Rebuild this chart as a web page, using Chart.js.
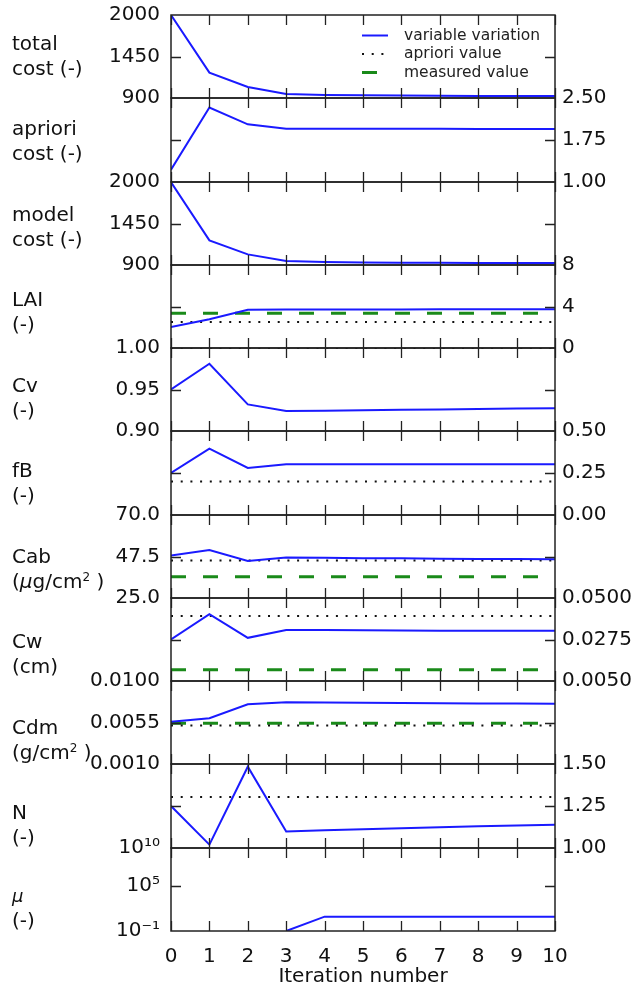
<!DOCTYPE html>
<html>
<head>
<meta charset="utf-8">
<script src="https://cdn.jsdelivr.net/npm/chart.js@4/dist/chart.umd.min.js"></script>
<style>
  body { margin: 0; background: #fff; width: 641px; height: 993px; position: relative; overflow: hidden;
         font-family: "DejaVu Sans", sans-serif; color: #111; }
  canvas { position: absolute; left: 0; }
  .lab { position: absolute; left: 12px; font-size: 20px; line-height: 25px; white-space: nowrap; }
  .lab sup { font-size: 12px; line-height: 0; vertical-align: 0.6em; }
  .lab .mu { font-size: 18px; }
</style>
</head>
<body>
<script>
const iterations = [0, 1, 2, 3, 4, 5, 6, 7, 8, 9, 10];

// variable variation per panel
const totalCost   = [2000, 1237, 1046, 953, 940, 935, 932, 930, 928, 927, 926];
const aprioriCost = [1.22, 2.33, 2.03, 1.95, 1.95, 1.95, 1.95, 1.95, 1.945, 1.945, 1.945];
const modelCost   = [1998, 1226, 1041, 953, 940, 934, 931, 929, 927, 926, 925];
const lai         = [2.02, 2.78, 3.68, 3.70, 3.71, 3.72, 3.72, 3.73, 3.73, 3.74, 3.74];
const cv          = [0.950, 0.981, 0.932, 0.924, 0.9245, 0.925, 0.9255, 0.926, 0.9265, 0.927, 0.9275];
const fB          = [0.25, 0.395, 0.28, 0.302, 0.302, 0.302, 0.302, 0.302, 0.302, 0.302, 0.302];
const cab         = [48.1, 51.0, 45.1, 47.0, 46.8, 46.6, 46.5, 46.3, 46.2, 46.1, 46.0];
const cw          = [0.0275, 0.0412, 0.0284, 0.0327, 0.0326, 0.0325, 0.0324, 0.0323, 0.0323, 0.0322, 0.0322];
const cdm         = [0.00557, 0.00596, 0.00748, 0.00770, 0.00768, 0.00765, 0.00762, 0.00760, 0.00757, 0.00755, 0.00752];
const nLayers     = [1.25, 1.02, 1.484, 1.098, 1.105, 1.112, 1.118, 1.124, 1.130, 1.134, 1.138];
const mu          = [null, null, null, 0.1, 8, 8, 8, 8, 8, 8, 8];

// horizontal reference lines (null = none in that panel)
const aprioriValues  = [null, null, null, 2.5, 1.0, 0.2, 45.3, 0.0403, 0.00518, 1.303, null];
const measuredValues = [null, null, null, 3.36, null, null, 36.5, 0.0111, 0.00543, null, null];

const yTicks = [
  [900, 1450, 2000], [1, 1.75, 2.5], [900, 1450, 2000], [0, 4, 8], [0.9, 0.95, 1.0], [0, 0.25, 0.5],
  [25, 47.5, 70], [0.005, 0.0275, 0.05], [0.001, 0.0055, 0.01], [1, 1.25, 1.5], [0.1, 1e5, 1e10]
];
const yTickLabels = [
  ['900', '1450', '2000'], ['1.00', '1.75', '2.50'], ['900', '1450', '2000'], ['0', '4', '8'],
  ['0.90', '0.95', '1.00'], ['0.00', '0.25', '0.50'], ['25.0', '47.5', '70.0'],
  ['0.0050', '0.0275', '0.0500'], ['0.0010', '0.0055', '0.0100'], ['1.00', '1.25', '1.50'],
  ['10\u207B\u00B9', '10\u2075', '10\u00B9\u2070']
];
const panelLabels = [
  ['total', 'cost (-)'], ['apriori', 'cost (-)'], ['model', 'cost (-)'], ['LAI', '(-)'], ['Cv', '(-)'],
  ['fB', '(-)'], ['Cab', '(<i>\u03BC</i>g/cm<sup>2</sup> )'], ['Cw', '(cm)'], ['Cdm', '(g/cm<sup>2</sup> )'],
  ['N', '(-)'], ['<i class="mu">\u03BC</i>', '(-)']
];
const legendLabels = ['variable variation', 'apriori value', 'measured value'];

const series = [totalCost, aprioriCost, modelCost, lai, cv, fB, cab, cw, cdm, nLayers, mu];

// layout
const TOP = 15, BOTTOM = 931, LEFT = 171, RIGHT = 555, M = 28, TICK = 10;
const H = (BOTTOM - TOP) / series.length;
const BLUE = '#1a1aff', DOTS = '#111', GREEN = '#1a8a1a';
const FONT = { family: 'DejaVu Sans', size: 20 };

const styles = [
  { borderColor: BLUE, borderWidth: 2 },
  { borderColor: DOTS, borderWidth: 2, borderDash: [2, 7.7] },
  { borderColor: GREEN, borderWidth: 3, borderDash: [15, 17] },
];

// frame round each panel with inward ticks (x integers on top/bottom, middle y tick on both sides)
const frameTicks = {
  id: 'frameTicks',
  afterDraw(chart, args, opts) {
    const { ctx, chartArea: a, scales } = chart;
    ctx.save();
    ctx.setLineDash([]);
    ctx.strokeStyle = '#222';
    ctx.lineWidth = 1.5;
    ctx.strokeRect(a.left, a.top, a.width, a.height);
    ctx.lineWidth = 1.3;
    ctx.beginPath();
    iterations.forEach((i) => {
      const x = Math.round(scales.x.getPixelForValue(i)) + 0.5;
      ctx.moveTo(x, a.top); ctx.lineTo(x, a.top + TICK);
      ctx.moveTo(x, a.bottom); ctx.lineTo(x, a.bottom - TICK);
    });
    const y = Math.round(scales.y.getPixelForValue(opts.mid)) + 0.5;
    ctx.moveTo(a.left, y); ctx.lineTo(a.left + TICK, y);
    ctx.moveTo(a.right, y); ctx.lineTo(a.right - TICK, y);
    ctx.stroke();
    ctx.restore();
  },
};

// legend drawn inside the first panel
const innerLegend = {
  id: 'innerLegend',
  afterDraw(chart) {
    const ctx = chart.ctx;
    const off = chart.canvas.offsetTop;
    ctx.save();
    ctx.font = '15.5px "DejaVu Sans"';
    ctx.textBaseline = 'middle';
    legendLabels.forEach((label, i) => {
      const y = 35.5 + i * 18.5 - off;
      const s = styles[i];
      ctx.strokeStyle = s.borderColor;
      ctx.lineWidth = s.borderWidth;
      ctx.setLineDash(s.borderDash || []);
      ctx.beginPath();
      ctx.moveTo(362, y);
      ctx.lineTo(i === 2 ? 378 : 388, y);
      ctx.stroke();
      ctx.fillStyle = '#222';
      ctx.fillText(label, 404, y);
    });
    ctx.restore();
  },
};

series.forEach((values, k) => {
  const last = k === series.length - 1;
  const side = k % 2 === 0 ? 'left' : 'right';
  const y0 = Math.round(TOP + k * H), y1 = Math.round(TOP + (k + 1) * H);
  const top = y0 - M;
  const height = last ? 993 - top : y1 - y0 + 2 * M;

  const canvas = document.createElement('canvas');
  canvas.width = 641;
  canvas.height = height;
  canvas.style.top = top + 'px';
  document.body.appendChild(canvas);

  const lab = document.createElement('div');
  lab.className = 'lab';
  lab.style.top = (43 + 85.5 * k - 12.5 - (last ? 3 : 0)) + 'px';
  lab.innerHTML = panelLabels[k].join('<br>');
  document.body.appendChild(lab);

  const datasets = [{
    data: iterations.map((x, i) => ({ x, y: values[i] })),
    ...styles[0],
  }];
  if (aprioriValues[k] !== null) {
    datasets.push({ data: iterations.map((x) => ({ x, y: aprioriValues[k] })), ...styles[1] });
  }
  if (measuredValues[k] !== null) {
    datasets.push({ data: iterations.map((x) => ({ x, y: measuredValues[k] })), ...styles[2] });
  }

  new Chart(canvas, {
    type: 'line',
    data: { datasets },
    plugins: k === 0 ? [frameTicks, innerLegend] : [frameTicks],
    options: {
      responsive: false,
      animation: false,
      elements: { point: { radius: 0 }, line: { tension: 0, borderCapStyle: 'butt' } },
      layout: {
        padding: {
          top: M,
          bottom: last ? 0 : M,
          left: side === 'left' ? 0 : LEFT,
          right: side === 'left' ? 641 - RIGHT : 0,
        },
      },
      scales: {
        x: {
          type: 'linear',
          min: 0,
          max: 10,
          display: true,
          grid: { display: false, drawTicks: false },
          border: { display: false },
          ticks: { display: last, stepSize: 1, color: '#111', font: FONT, padding: 14, maxRotation: 0, autoSkip: false },
          title: { display: last, text: 'Iteration number', color: '#111', font: FONT, padding: { top: 0, bottom: 4 } },
          afterFit: (s) => { s.height = last ? 993 - BOTTOM : 0; },
        },
        y: {
          type: last ? 'logarithmic' : 'linear',
          position: side,
          min: yTicks[k][0],
          max: yTicks[k][2],
          grid: { display: false, drawTicks: false },
          border: { display: false },
          ticks: {
            color: '#111',
            font: FONT,
            autoSkip: false,
            padding: side === 'left' ? 11 : 7,
            callback: (v, i) => yTickLabels[k][i],
          },
          afterBuildTicks: (s) => { s.ticks = yTicks[k].map((v) => ({ value: v })); },
          afterFit: (s) => { s.width = side === 'left' ? LEFT : 641 - RIGHT; },
        },
      },
      plugins: {
        legend: { display: false },
        tooltip: { enabled: false },
        frameTicks: { mid: yTicks[k][1] },
      },
    },
  });
});
</script>
</body>
</html>
